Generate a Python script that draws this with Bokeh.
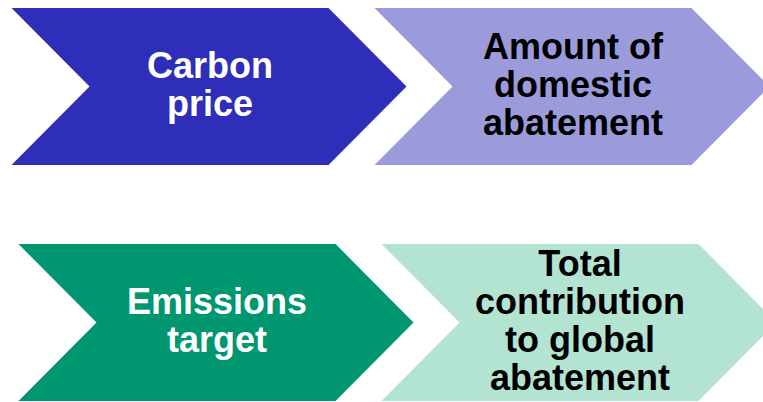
from bokeh.plotting import figure
from bokeh.models import Range1d, ColumnDataSource
from bokeh.core.properties import value
from bokeh.embed import file_html
from bokeh.resources import INLINE

# ---- data ----
labels = ["Carbon\nprice",
          "Amount of\ndomestic\nabatement",
          "Emissions\ntarget",
          "Total\ncontribution\nto global\nabatement"]
fill_colors = ["#2E2EB8", "#9B9BDC", "#009670", "#B3E4D1"]
text_colors = ["#FFFFFF", "#000000", "#FFFFFF", "#000000"]
rows = [0, 0, 1, 1]
cols = [0, 1, 0, 1]

# ---- layout (pixels of the 763x402 picture) ----
row_left = [11, 18]
row_center = [86, 322]
col_pitch = 363
body_w = 317
tip = 78
half_h = 78.5

xs, ys, tx, ty = [], [], [], []
for r, c in zip(rows, cols):
    x0 = row_left[r] + c * col_pitch
    yc = row_center[r]
    xs.append([x0, x0 + body_w, x0 + body_w + tip, x0 + body_w, x0, x0 + tip])
    ys.append([yc - half_h, yc - half_h, yc, yc + half_h, yc + half_h, yc])
    tx.append(x0 + (body_w + tip) / 2 + 1)
    ty.append(yc - 2)

shapes = ColumnDataSource(dict(xs=xs, ys=ys, fill=fill_colors))
texts = ColumnDataSource(dict(x=tx, y=ty, text=labels, color=text_colors))

p = figure(width=763, height=402, x_range=Range1d(0, 763), y_range=Range1d(402, 0),
           output_backend="svg", toolbar_location=None, min_border=0,
           x_axis_location=None, y_axis_location=None)
p.grid.visible = False
p.outline_line_color = None
p.background_fill_color = "white"
p.border_fill_color = "white"

p.patches("xs", "ys", source=shapes, fill_color="fill", line_color=None)
p.text("x", "y", text="text", source=texts, text_color="color",
       text_font=value("Liberation Sans"), text_font_style="bold",
       text_font_size="36px", text_align="center", text_baseline="middle",
       text_line_height=0.93)

open("out.html", "w").write(file_html(p, INLINE))
